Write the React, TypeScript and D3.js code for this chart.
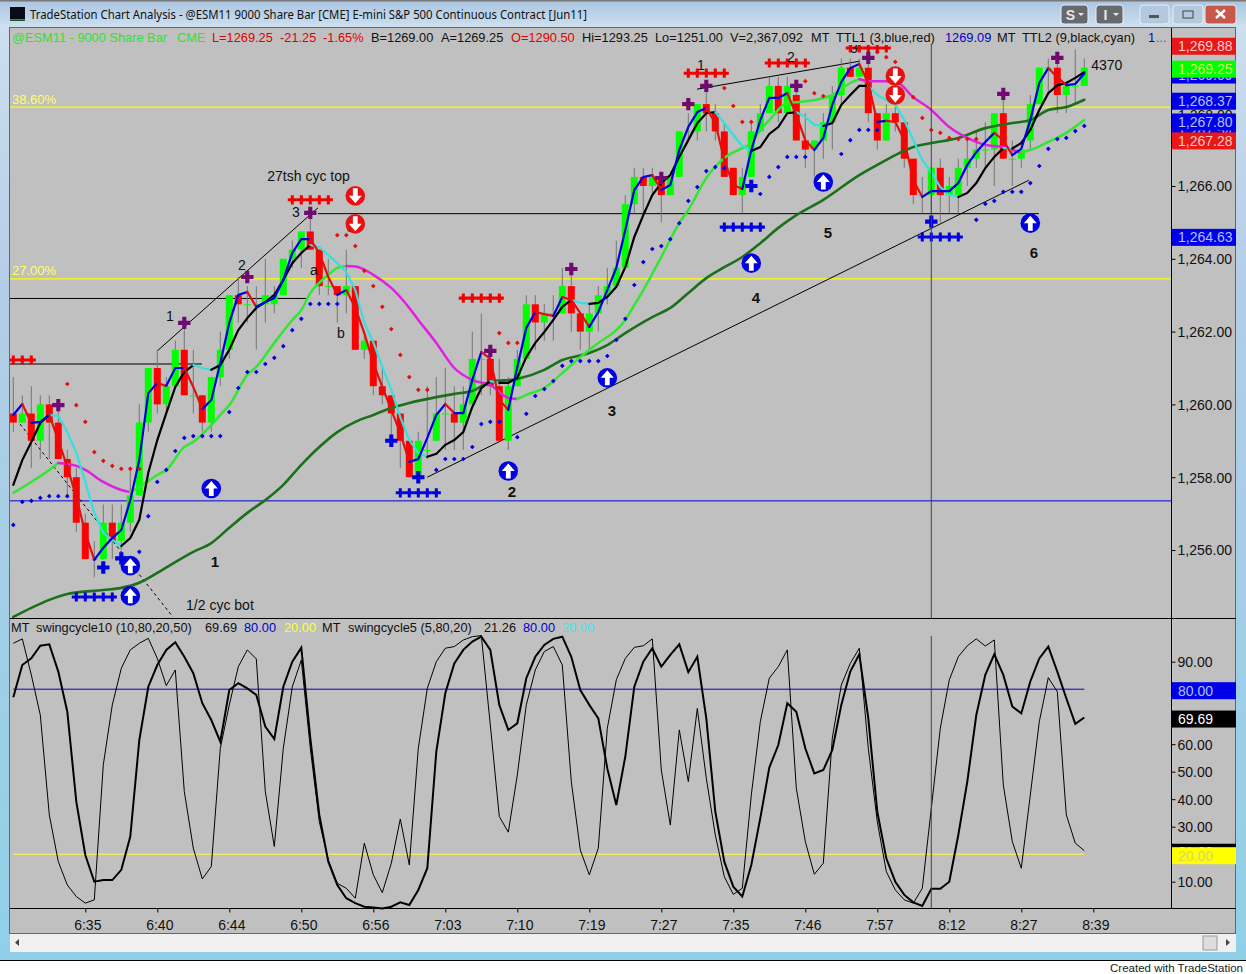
import React, { useEffect, useRef } from 'react';
import * as d3 from 'd3';

// bar data (one entry per bar, 120 bars)
const opens = [1259.75,1259.5,1259.75,1259,1260,1259.5,1258.5,1258,1256.75,1255.75,1255.75,1256.75,1256.25,1256.75,1257.5,1259.5,1261,1260,1260.5,1261.5,1260.25,1260.25,1259.5,1260.75,1261.5,1263,1262.75,1262.75,1262.75,1262.75,1263,1264,1264.25,1264.75,1264.25,1263.25,1263.25,1263,1263.25,1261.5,1261.75,1260.5,1260.25,1259.75,1259,1258,1258.75,1259,1259.75,1259.75,1259.5,1260,1261.25,1261.25,1260.5,1259,1260.5,1261.25,1262.75,1262.25,1262.5,1262.5,1263.25,1262.5,1262,1262.5,1263,1263.25,1263.75,1265.5,1266.25,1266,1266.25,1265.75,1266.25,1267.5,1267.5,1268.25,1268,1267.5,1266.5,1265.75,1266.25,1267.5,1268,1268.75,1268,1268.5,1267.25,1267,1267.25,1267.75,1268.5,1269.25,1269,1269.25,1268,1267.25,1268,1267.75,1266.75,1265.75,1265.75,1266.5,1265.75,1265.75,1266.5,1266.75,1267,1267,1268,1266.75,1266.75,1267.25,1268.25,1269.25,1269.25,1268.5,1268.75,1268.75];
const closes = [1259.5,1259.75,1259,1260,1259.5,1258.5,1258,1256.75,1255.75,1255.75,1256.75,1256.25,1256.75,1257.5,1259.5,1261,1260,1260.5,1261.5,1260.25,1260.25,1259.5,1260.75,1261.5,1263,1262.75,1262.75,1262.75,1263,1263,1264,1264.25,1264.75,1264.25,1263.25,1263.25,1263,1263.25,1261.5,1261.75,1260.5,1260.25,1259.75,1259,1258,1259,1258.75,1259.75,1259.75,1259.5,1260,1261.25,1261.25,1260.5,1259,1260.5,1261.25,1262.75,1262.25,1262.5,1262.5,1263.25,1262.5,1262,1262.5,1263,1263.25,1263.75,1265.5,1266.25,1266,1266.25,1265.75,1266.25,1267.5,1267.5,1268.25,1268,1267.5,1266.25,1265.75,1266.25,1267.5,1268,1268.75,1268,1268.75,1267.25,1267,1267.25,1267.75,1268.5,1269.25,1269,1269.25,1268,1267.25,1268,1267.75,1266.75,1265.75,1265.75,1266.5,1265.75,1266,1266.5,1266.75,1267,1267,1268,1266.75,1266.75,1267,1268.25,1269.25,1269.25,1268.5,1268.75,1268.75,1269.25];
const highs = [1260.75,1260.25,1260.5,1260.25,1260.25,1260,1258.75,1258.25,1257,1256.25,1257.25,1257.25,1257.25,1258.25,1260,1261,1261.5,1260.75,1261.75,1262.25,1261.5,1260.25,1260.75,1262,1263,1263.5,1263.25,1263.25,1264,1263.25,1264,1264.5,1264.75,1265.25,1264.25,1264,1263.25,1264.25,1263.25,1262,1261.75,1261,1260.25,1259.75,1259,1259.25,1260.5,1260.75,1261,1260.5,1260.5,1262,1262.5,1261.5,1261.25,1260.75,1261.5,1263,1263,1262.75,1263,1263.75,1263.75,1262.5,1262.75,1263.25,1263.75,1264.5,1265.75,1266.5,1266.5,1266.5,1266.25,1266.25,1267.5,1268,1268.25,1268.75,1268.25,1267.75,1266.5,1266.5,1267.75,1268.25,1269,1269,1269,1268.75,1268,1267.25,1268,1268.75,1269.5,1269.5,1269.5,1269.5,1268,1268.25,1268.5,1267.75,1266.75,1266.25,1266.5,1266.75,1266.25,1266.75,1267.25,1267.5,1267.75,1268,1268.5,1267.25,1267.25,1268.5,1269.25,1269.5,1269.5,1268.75,1269.75,1269.5];
const lows = [1259.25,1259.5,1258.25,1258.5,1258.5,1258.5,1257.5,1256.5,1255.75,1255.25,1255.75,1255.75,1256,1256.5,1257.5,1259.25,1259.75,1259.75,1260.5,1260.25,1259.75,1259.25,1259.25,1260.5,1261.25,1262.25,1262.25,1261.5,1262.25,1262.5,1263,1263.75,1263.75,1264.25,1263,1263,1262.25,1262.5,1261.5,1261.25,1260.25,1260,1259,1258.25,1258,1258,1258.5,1259,1258.75,1258.75,1258.75,1260,1260.25,1260.25,1259,1258.75,1260.5,1261.25,1261.5,1261.75,1261.75,1262.5,1262,1261.5,1261.5,1262,1262.75,1263.25,1263.75,1265.25,1265.25,1265.75,1265,1265.75,1266.25,1267.25,1267.25,1267.5,1267.25,1266.25,1265.75,1265.25,1266.25,1267.5,1268,1267.75,1268,1267.25,1266.5,1266.25,1266.75,1267,1268.25,1269,1269,1267.75,1267,1267.25,1267.5,1266.5,1265.5,1265.25,1265.25,1265,1265.25,1265.25,1266,1266.5,1266.5,1266,1266.75,1266,1266.5,1267,1268.25,1268.5,1268,1268,1268.25,1268.75];

// TTL1 (3,blue,red) and TTL2 (9,black,cyan), one value per bar
const ttl1 = [1259.71,1260.01,1259.49,1259.52,1259.71,1259.02,1258.28,1257.46,1256.47,1255.73,1256.06,1256.33,1256.55,1257.37,1258.47,1260.31,1260.59,1260.51,1261,1261,1260.48,1259.87,1260.12,1261.14,1262.24,1263.01,1263.09,1262.68,1262.81,1262.92,1263.42,1264.16,1264.54,1264.54,1264.16,1263.5,1263.01,1263.14,1262.65,1261.96,1261.14,1260.48,1259.85,1259.21,1258.42,1258.5,1259.08,1259.71,1260.01,1259.76,1259.76,1260.67,1261.44,1261.25,1260.12,1259.85,1261.03,1262.1,1262.54,1262.48,1262.43,1262.95,1262.87,1262.51,1262.13,1262.54,1263.14,1263.75,1264.79,1265.89,1266.25,1266.3,1265.89,1266.03,1266.99,1267.62,1268.03,1268.14,1267.73,1266.71,1266.03,1265.92,1266.99,1267.81,1268.42,1268.42,1268.55,1267.95,1267.26,1266.99,1267.32,1268.23,1268.86,1269.24,1269.35,1268.83,1267.76,1267.79,1267.76,1267.26,1266.16,1265.7,1265.86,1265.86,1265.86,1266.08,1266.58,1266.93,1267.21,1267.46,1267.26,1266.85,1267.02,1267.81,1268.83,1269.24,1268.99,1268.77,1268.8,1269.09];
const ttl2 = [1257.79,1258.47,1258.97,1259.49,1259.71,1259.68,1259.24,1258.67,1257.87,1257.02,1256.47,1256.28,1256.11,1256.33,1256.83,1258.12,1259.02,1259.76,1260.48,1260.89,1261.08,1261,1260.95,1261.08,1261.5,1262.04,1262.37,1262.65,1262.81,1263.01,1263.42,1263.88,1264.16,1264.38,1264.32,1264.1,1263.88,1263.64,1263.14,1262.24,1261.71,1261.03,1260.4,1259.65,1259.02,1258.67,1258.56,1258.64,1258.89,1259.02,1259.24,1259.93,1260.45,1260.64,1260.59,1260.59,1260.73,1261.3,1261.69,1261.99,1262.32,1262.68,1262.87,1262.79,1262.76,1262.79,1262.95,1263.23,1263.77,1264.6,1265.2,1265.75,1266.08,1266.3,1266.8,1267.26,1267.73,1268,1268.03,1267.73,1267.4,1267.1,1266.96,1267.07,1267.43,1267.62,1268,1268.03,1267.9,1267.68,1267.65,1267.73,1268.23,1268.5,1268.75,1268.75,1268.5,1268.36,1268.23,1267.81,1267.26,1266.71,1266.38,1265.97,1265.75,1265.7,1265.81,1266.08,1266.49,1266.8,1267.04,1267.03,1267.18,1267.54,1268.09,1268.55,1268.77,1268.83,1268.97,1269.13];

// the two moving averages, read at their visible vertices
const midBars = [0,2,4,5,7,8,10,12,13,14,16,17,19,20,22,23,24,26,27,29,31,32,33,34,35,36,37,38,40,42,44,45,47,49,51,53,55,56,57,59,61,63,65,67,68,69,70,72,74,75,77,79,81,82,83,84,86,87,89,91,93,94,95,98,100,102,104,106,108,110,111,112,113,115,117,119];
const midValues = [1257.57,1257.87,1258.2,1258.39,1258.31,1258.2,1257.87,1257.65,1257.59,1257.73,1258.06,1258.2,1258.83,1258.97,1259.43,1259.71,1259.98,1260.81,1261.03,1261.69,1262.32,1262.59,1263.06,1263.34,1263.56,1263.75,1263.8,1263.79,1263.56,1263.2,1262.65,1262.32,1261.69,1261,1260.67,1260.53,1260.18,1260.15,1260.26,1260.45,1260.86,1261.3,1261.69,1262.04,1262.32,1262.73,1263.14,1264.05,1264.98,1265.34,1266.22,1266.77,1267.04,1267.18,1267.54,1267.81,1268.28,1268.3,1268.36,1268.5,1268.83,1268.94,1268.88,1268.87,1268.44,1268.09,1267.62,1267.32,1267.13,1267.07,1266.99,1266.93,1266.99,1267.21,1267.46,1267.81];
const longBars = [0,2,4,6,10,12,14,16,18,20,22,24,26,28,30,32,34,36,38,40,42,44,47,49,51,53,56,59,61,64,66,68,71,73,75,77,79,81,83,85,87,90,94,96,98,100,102,105,108,111,113,115,117,119];
const longValues = [1254.16,1254.41,1254.63,1254.79,1254.9,1254.96,1255.1,1255.37,1255.67,1255.95,1256.19,1256.61,1257.02,1257.37,1257.79,1258.34,1258.83,1259.24,1259.52,1259.71,1259.9,1260.04,1260.2,1260.29,1260.37,1260.62,1260.7,1260.95,1261.22,1261.41,1261.63,1261.96,1262.4,1262.65,1263.06,1263.47,1263.77,1264.05,1264.43,1264.85,1265.2,1265.62,1266.3,1266.58,1266.85,1267.07,1267.18,1267.32,1267.59,1267.73,1267.81,1268.09,1268.17,1268.37];

// stop dots
const blueDotBars = [0,1,2,3,4,5,6,14,15,16,17,18,19,20,21,22,23,24,25,26,27,28,29,30,31,32,33,34,35,36,47,48,49,50,51,52,53,54,56,57,58,59,60,61,62,63,64,65,66,67,68,69,70,71,72,73,74,75,76,77,78,79,83,84,85,86,87,88,92,93,94,95,96,107,108,109,110,111,112,113,114,115,116,117,118,119];
const blueDotValues = [1256.69,1257.32,1257.35,1257.43,1257.48,1257.48,1257.48,1255.95,1256.93,1257.87,1258.2,1258.72,1259.08,1259.13,1259.13,1259.13,1259.13,1259.79,1260.45,1260.89,1260.89,1261.11,1261.28,1261.6,1262.04,1262.35,1262.76,1262.76,1262.76,1262.76,1258.2,1258.5,1258.5,1258.5,1258.83,1259.46,1259.52,1259.52,1259.1,1259.74,1260.23,1260.42,1260.64,1261.06,1261.19,1261.19,1261.19,1261.19,1261.33,1261.77,1262.35,1263.28,1263.91,1264.27,1264.35,1264.54,1264.98,1265.59,1265.97,1266.41,1266.52,1266.49,1265.78,1266.25,1266.52,1266.8,1266.8,1266.8,1266.88,1267.26,1267.54,1267.54,1267.54,1265.07,1265.51,1265.59,1265.84,1265.84,1265.84,1266.08,1266.55,1267.02,1267.29,1267.32,1267.51,1267.65];
const redDotBars = [6,7,8,9,10,11,12,13,14,36,37,38,39,40,41,42,43,44,45,46,54,55,56,79,80,81,82,88,89,90,96,97,98,100,101,102,103,104,105,106,107];
const redDotValues = [1260.56,1259.98,1259.52,1258.69,1258.45,1258.31,1258.23,1258.23,1258.23,1264.65,1264.65,1264.35,1263.67,1263.25,1262.68,1262.07,1261.36,1260.75,1260.4,1260.4,1261.96,1261.69,1261.69,1268.69,1268.2,1267.76,1267.76,1268.88,1268.55,1268.47,1269.68,1269.54,1269.41,1268.44,1267.87,1267.54,1267.46,1267.32,1267.29,1267.29,1267.29];

// purple swing markers and the single blue crosses
const purpleBars = [5,19,26,33,53,62,72,75,77,87,95,110,116];
const purpleValues = [1259.98,1262.24,1263.5,1265.26,1261.47,1263.72,1266.22,1268.25,1268.75,1268.75,1269.52,1268.53,1269.52];
const blueCrossBars = [10,12,42,45,82,102];
const blueCrossValues = [1255.52,1255.77,1259.0,1258.0,1266.0,1265.02];

// rows of crosses: first bar, count, price
const redRowStart = [0,31,50,75,84,93];
const redRowCount = [3,5,5,5,5,5];
const redRowPrice = [1261.22,1265.62,1262.92,1269.1,1269.38,1269.79];
const blueRowStart = [7,43,79,101];
const blueRowCount = [5,5,5,5];
const blueRowPrice = [1254.71,1257.57,1264.87,1264.6];

// arrow circles
const upArrowBars = [13,13,22,55,66,82,90,113];
const upArrowValues = [1255.57,1254.74,1257.69,1258.17,1260.73,1263.88,1266.11,1264.98];
const downArrowBars = [38,38,98,98];
const downArrowValues = [1265.73,1264.96,1269.02,1268.5];

// hand drawn lines: [bar, price, bar, price]
const trendLines = [
  [16, 1261.47, 33.85, 1265.4],
  [46, 1258.0, 112.85, 1266.16],
  [75.96, 1268.66, 94.08, 1269.43],
  [-0.37, 1262.91, 32.7, 1262.91],
  [-0.37, 1261.11, 20.96, 1261.11],
  [33.85, 1265.24, 113.96, 1265.24],
];
const dashedLine = [0.75, 1259.46, 17.74, 1254.16];

// text notes: label, bar, price
const notes: [string, number, number][] = [
  ['27tsh cyc top', 32.8, 1266.14], ['1/2 cyc bot', 22.96, 1254.35], ['1', 17.4, 1262.29], ['2', 25.4, 1263.69],
  ['3', 31.4, 1265.15], ['a', 33.4, 1263.56], ['b', 36.4, 1261.82], ['c', 37.4, 1264.74], ['1', 76.4, 1269.19],
  ['2', 86.4, 1269.41], ['3', 93.4, 1269.65], ['4370', 121.5, 1269.2],
];
const boldNotes: [string, number, number][] = [
  ['1', 22.4, 1255.53], ['2', 55.4, 1257.46], ['3', 66.5, 1259.68], ['4', 82.5, 1262.79], ['5', 90.5, 1264.57], ['6', 113.4, 1264.02],
];

// oscillators, one value per bar
const swing10 = [77.1,88.8,91.2,95.8,96.3,86.4,71.8,39.1,19.7,10,10.6,10.6,14.3,26.4,61.5,80.9,88.8,94.3,97.1,91.8,85.8,74.9,68.8,60.9,79.7,82.2,80.3,77.9,66.4,61.9,80.9,90,95.1,62.2,34.3,17.3,8.8,4,2.2,0.9,0.6,0.3,0.9,2.5,1.5,7,14.9,57.3,78.5,89.4,94.3,97.3,99.1,94.3,74.3,65.2,67.6,84,91.8,96.1,98.3,99.1,91.8,79.7,74.3,69.4,51.2,37.9,55.5,80.9,90,94.9,88.2,92.5,96.3,86.2,91.8,69.4,35.5,17.3,8.2,4.6,16.1,33.1,51.5,59.7,74.9,71.8,58.5,49.4,50.6,57.9,74.3,86.4,92.7,69.4,35.5,18.5,10,5.2,2.5,1.2,7.4,7.4,10,27,46.4,70.6,85.2,92.7,85.2,73.7,71.2,82.8,91.2,95.5,86.4,76.7,67.4,69.69];
const swing5 = [96.7,98.3,85.2,70.6,34.3,17.3,8.8,4.6,2.2,3.4,52.5,74.3,87.6,94.3,96.7,98.5,91.2,81.3,87,42.8,22.2,11,15.5,58.5,74.3,88.2,94.3,91,42.8,22.8,58.5,80.9,90.6,58.5,31.8,17.9,9.4,7.6,4,24,12.5,6,16.7,32.8,16.1,58.5,80.3,90,94.9,95.5,97.9,99.1,99.5,67,33.7,28,48.8,74.3,87,93.7,95.5,88.8,46.4,21.5,12.5,22.2,65.8,83.4,91.2,95.2,95.8,98.3,50.6,30.6,65.2,46.4,73,47.6,27,11.8,5.4,7.6,41.5,68.2,84,88.2,94.3,44,24.6,12.7,16.7,62.2,81.5,89.4,94.9,58.5,31.8,13.7,7,3.4,2.2,7.6,36.7,65.8,83.4,91.8,95.8,98.3,95.7,97.9,45.2,24.6,14.9,41.5,68.2,84.2,79.1,34.3,24,21.26];

const timeLabels = ['6:35','6:40','6:44','6:50','6:56','7:03','7:10','7:19','7:27','7:35','7:46','7:57','8:12','8:27','8:39'];
const priceTicks = [1266,1264,1262,1260,1258,1256];
const oscTicks = [90,60,50,40,30,10];

const App: React.FC = () => {
  const ref = useRef<SVGSVGElement>(null);

  useEffect(() => {
    const svg = d3.select(ref.current);
    svg.selectAll('*').remove();

    const font = '"Liberation Sans", Arial, sans-serif';
    const x = d3.scaleLinear().domain([0, 120]).range([13.3, 1093.3]);
    const y = d3.scaleLinear().domain([1266, 1256]).range([186, 550]);
    const yOsc = d3.scaleLinear().domain([90, 10]).range([661.7, 881.7]);

    const defs = svg.append('defs');
    const grad = defs.append('linearGradient').attr('id', 'title').attr('x1', 0).attr('x2', 0).attr('y1', 0).attr('y2', 1);
    grad.append('stop').attr('offset', 0).attr('stop-color', '#a9c4df');
    grad.append('stop').attr('offset', 1).attr('stop-color', '#cfe0f0');
    const side = defs.append('linearGradient').attr('id', 'side').attr('x1', 0).attr('x2', 0).attr('y1', 0).attr('y2', 1);
    side.append('stop').attr('offset', 0).attr('stop-color', '#cfe0f0');
    side.append('stop').attr('offset', 0.3).attr('stop-color', '#b4cde6');
    side.append('stop').attr('offset', 1).attr('stop-color', '#8fd0e8');
    defs.append('clipPath').attr('id', 'main').append('rect').attr('x', 10).attr('y', 45).attr('width', 1161).attr('height', 573);

    // window frame
    svg.append('rect').attr('width', 1246).attr('height', 974).attr('fill', '#ffffff');
    svg.append('rect').attr('width', 1246).attr('height', 960).attr('fill', 'url(#side)');
    svg.append('rect').attr('width', 1246).attr('height', 28).attr('fill', 'url(#title)');
    svg.append('rect').attr('width', 1246).attr('height', 1.5).attr('fill', '#777777');
    svg.append('rect').attr('y', 960).attr('width', 1246).attr('height', 1).attr('fill', '#000000');
    svg.append('rect').attr('x', 9.5).attr('y', 27.5).attr('width', 1226).attr('height', 906).attr('fill', '#c0c0c0').attr('stroke', '#666666');
    svg.append('rect').attr('x', 10).attr('y', 934).attr('width', 1226).attr('height', 18).attr('fill', '#f0f0f0');
    svg.append('rect').attr('x', 1203).attr('y', 936).attr('width', 14).attr('height', 14).attr('fill', '#dddddd').attr('stroke', '#999999');
    svg.append('path').attr('d', 'M19,939 L15,942.5 L19,946 Z').attr('fill', '#444444');
    svg.append('path').attr('d', 'M1226,939 L1230,942.5 L1226,946 Z').attr('fill', '#444444');

    // icon
    svg.append('rect').attr('x', 10).attr('y', 7).attr('width', 15).attr('height', 14).attr('fill', '#0a0a18');
    svg.append('rect').attr('x', 10).attr('y', 19).attr('width', 15).attr('height', 1.5).attr('fill', '#2aa02a');
    svg.append('text').attr('x', 30).attr('y', 19).attr('font-family', '"Noto Sans", sans-serif').attr('font-size', 12)
      .attr('textLength', 557).attr('lengthAdjust', 'spacingAndGlyphs').attr('fill', '#111111')
      .text('TradeStation Chart Analysis - @ESM11 9000 Share Bar [CME] E-mini S&P 500 Continuous Contract [Jun11]');

    // window buttons
    const btn = (bx, w, col, label) => {
      svg.append('rect').attr('x', bx).attr('y', 5).attr('width', w).attr('height', 19).attr('rx', 3).attr('fill', col).attr('stroke', '#e8eef5');
      if (label) {
        svg.append('text').attr('x', bx + w / 2 - 4).attr('y', 19.5).attr('text-anchor', 'middle').attr('font-family', font)
          .attr('font-weight', 'bold').attr('font-size', 14).attr('fill', '#e8e8e8').text(label);
        svg.append('path').attr('d', `M${bx + w - 10},13 h6 l-3,3 Z`).attr('fill', '#e8e8e8');
      }
    };
    btn(1061, 27, '#666a6e', 'S');
    btn(1096, 27, '#666a6e', 'I');
    btn(1140, 29, '#b5c9de', '');
    btn(1173, 30, '#b5c9de', '');
    btn(1205, 31, '#c8584a', '');
    svg.append('rect').attr('x', 1149).attr('y', 15).attr('width', 10).attr('height', 3).attr('fill', '#555555');
    svg.append('rect').attr('x', 1183).attr('y', 11).attr('width', 10).attr('height', 7).attr('fill', 'none').attr('stroke', '#444444');
    svg.append('path').attr('d', 'M1216,10 L1225,18 M1225,10 L1216,18').attr('stroke', '#ffffff').attr('stroke-width', 2.5);
    svg.append('text').attr('x', 1243).attr('y', 972).attr('text-anchor', 'end').attr('font-family', font).attr('font-size', 11.5).attr('fill', '#222222').text('Created with TradeStation');

    // header texts
    const label = (g, str, tx, ty, col, size = 12.8) =>
      g.append('text').attr('x', tx).attr('y', ty).attr('font-family', font).attr('font-size', size).attr('fill', col).text(str);
    const hy = 42;
    [
      ['@ESM11 - 9000 Share Bar', 12, '#33e033'], ['CME', 177, '#33e033'], ['L=1269.25', 212, '#e00000'], ['-21.25', 280, '#e00000'], ['-1.65%', 323, '#e00000'],
      ['B=1269.00', 371, '#111111'], ['A=1269.25', 441, '#111111'], ['O=1290.50', 511, '#e00000'], ['Hi=1293.25', 582, '#111111'],
      ['Lo=1251.00', 655, '#111111'], ['V=2,367,092', 730, '#111111'], ['MT', 811, '#111111'], ['TTL1 (3,blue,red)', 836, '#111111'],
      ['1269.09', 945, '#0000d0'], ['MT', 997, '#111111'], ['TTL2 (9,black,cyan)', 1022, '#111111'], ['1', 1148, '#0000d0'], ['...', 1156, '#666666'],
    ].forEach((d: any) => label(svg, d[0], d[1], hy, d[2]));
    [
      ['MT', 11, '#111111'], ['swingcycle10 (10,80,20,50)', 36, '#111111'], ['69.69', 205, '#111111'], ['80.00', 244, '#0000d0'], ['20.00', 284, '#ffff30'],
      ['MT', 322, '#111111'], ['swingcycle5 (5,80,20)', 348, '#111111'], ['21.26', 484, '#111111'], ['80.00', 523, '#0000d0'], ['20.00', 562, '#40e8e8'],
    ].forEach((d: any) => label(svg, d[0], d[1], 632, d[2]));

    // main panel, clipped to the price pane
    const g = svg.append('g').attr('clip-path', 'url(#main)');

    // levels
    g.append('line').attr('x1', 10).attr('x2', 1171).attr('y1', 107.2).attr('y2', 107.2).attr('stroke', '#ffff00').attr('stroke-width', 1.3);
    g.append('line').attr('x1', 10).attr('x2', 1171).attr('y1', 278.8).attr('y2', 278.8).attr('stroke', '#ffff00').attr('stroke-width', 1.3);
    g.append('line').attr('x1', 10).attr('x2', 1171).attr('y1', y(1257.35)).attr('y2', y(1257.35)).attr('stroke', '#0000d0');
    label(g, '38.60%', 12, 104, '#ffff66', 13);
    label(g, '27.00%', 12, 275, '#ffff66', 13);

    trendLines.forEach(d => {
      g.append('line').attr('x1', x(d[0])).attr('y1', y(d[1])).attr('x2', x(d[2])).attr('y2', y(d[3])).attr('stroke', '#000000').attr('stroke-width', 1);
    });
    g.append('line').attr('x1', x(dashedLine[0])).attr('y1', y(dashedLine[1])).attr('x2', x(dashedLine[2])).attr('y2', y(dashedLine[3]))
      .attr('stroke', '#000000').attr('stroke-dasharray', '3,3');

    // bars
    const bars = d3.range(opens.length);
    g.selectAll('.wick').data(bars).enter().append('line').attr('class', 'wick')
      .attr('x1', i => x(i)).attr('x2', i => x(i)).attr('y1', i => y(highs[i])).attr('y2', i => y(lows[i]))
      .attr('stroke', '#767676').attr('stroke-width', 1);
    g.selectAll('.body').data(bars).enter().append('rect').attr('class', 'body')
      .attr('x', i => x(i) - 3.5).attr('width', 7)
      .attr('y', i => y(Math.max(opens[i], closes[i])))
      .attr('height', i => Math.max(y(Math.min(opens[i], closes[i])) - y(Math.max(opens[i], closes[i])), 1))
      .attr('fill', i => (closes[i] < opens[i] ? '#ff0000' : '#00ff00'));

    // lines coloured by direction, split in runs of one colour
    const drawDir = (pts, up, down, w, curve) => {
      const line = d3.line<number[]>().x(d => x(d[0])).y(d => y(d[1])).curve(curve);
      let run = [pts[0]];
      let col = null;
      for (let k = 1; k < pts.length; k++) {
        const c = pts[k][1] >= pts[k - 1][1] ? up : down;
        if (col && c !== col) {
          g.append('path').attr('d', line(run)).attr('fill', 'none').attr('stroke', col).attr('stroke-width', w).attr('stroke-linecap', 'round');
          run = [pts[k - 1]];
        }
        col = c;
        run.push(pts[k]);
      }
      g.append('path').attr('d', line(run)).attr('fill', 'none').attr('stroke', col).attr('stroke-width', w).attr('stroke-linecap', 'round');
    };
    drawDir(longBars.map((b, k) => [b, longValues[k]]), '#1b701b', '#1b701b', 2.6, d3.curveMonotoneX);
    drawDir(midBars.map((b, k) => [b, midValues[k]]), '#33e633', '#e020e0', 2.5, d3.curveMonotoneX);
    drawDir(ttl2.map((v, k) => [k, v]), '#000000', '#33e0e0', 2.2, d3.curveLinear);
    drawDir(ttl1.map((v, k) => [k, v]), '#0000e0', '#e01010', 2.2, d3.curveLinear);

    // dots and crosses
    const place = (bar, val, size, type, col) =>
      g.append('path').attr('d', d3.symbol().type(type).size(size)()).attr('fill', col).attr('transform', `translate(${x(bar)},${y(val)})`);
    blueDotBars.forEach((b, k) => place(b, blueDotValues[k], 14, d3.symbolDiamond2, '#0000e0'));
    redDotBars.forEach((b, k) => place(b, redDotValues[k], 14, d3.symbolDiamond2, '#e01010'));
    redRowStart.forEach((s, k) => d3.range(redRowCount[k]).forEach(n => place(s + n, redRowPrice[k], 46, d3.symbolCross, '#f00000')));
    blueRowStart.forEach((s, k) => d3.range(blueRowCount[k]).forEach(n => place(s + n, blueRowPrice[k], 46, d3.symbolCross, '#0000e0')));
    purpleBars.forEach((b, k) => place(b, purpleValues[k], 85, d3.symbolCross, '#700a70'));
    blueCrossBars.forEach((b, k) => place(b, blueCrossValues[k], 85, d3.symbolCross, '#0000e0'));

    // notes
    notes.forEach(d => {
      g.append('text').attr('x', x(d[1])).attr('y', y(d[2])).attr('text-anchor', 'middle').attr('font-family', font).attr('font-size', 14).attr('fill', '#111111').text(d[0]);
    });
    boldNotes.forEach(d => {
      g.append('text').attr('x', x(d[1])).attr('y', y(d[2])).attr('text-anchor', 'middle').attr('font-family', font).attr('font-size', 15).attr('font-weight', 'bold').attr('fill', '#111111').text(d[0]);
    });

    // arrow circles
    const arrow = (bar, val, col, down) => {
      const a = g.append('g').attr('transform', `translate(${x(bar)},${y(val)})`);
      a.append('circle').attr('r', 9.8).attr('fill', col);
      a.append('path').attr('d', 'M-2.4,7.5 L2.4,7.5 L2.4,0 L6.5,0 L0,-7.5 L-6.5,0 L-2.4,0 Z').attr('fill', '#ffffff').attr('transform', down ? 'rotate(180)' : null);
    };
    upArrowBars.forEach((b, k) => arrow(b, upArrowValues[k], '#0000e0', false));
    downArrowBars.forEach((b, k) => arrow(b, downArrowValues[k], '#e81010', true));

    // oscillator pane
    const osc = svg.append('g');
    osc.append('line').attr('x1', x(0)).attr('x2', x(119)).attr('y1', yOsc(80)).attr('y2', yOsc(80)).attr('stroke', '#0000d0');
    osc.append('line').attr('x1', x(0)).attr('x2', x(119)).attr('y1', yOsc(20)).attr('y2', yOsc(20)).attr('stroke', '#ffff33');
    const oscLine = d3.line<number>().x((d, i) => x(i)).y(d => yOsc(d));
    osc.append('path').attr('d', oscLine(swing5)).attr('fill', 'none').attr('stroke', '#000000').attr('stroke-width', 1);
    osc.append('path').attr('d', oscLine(swing10)).attr('fill', 'none').attr('stroke', '#000000').attr('stroke-width', 2);

    // cursor line
    svg.append('line').attr('x1', x(102)).attr('x2', x(102)).attr('y1', 45).attr('y2', 618).attr('stroke', '#444444');
    svg.append('line').attr('x1', x(102)).attr('x2', x(102)).attr('y1', 636).attr('y2', 908).attr('stroke', '#444444');

    // pane borders
    svg.append('line').attr('x1', 10).attr('x2', 1236).attr('y1', 618.5).attr('y2', 618.5).attr('stroke', '#000000');
    svg.append('line').attr('x1', 1171.5).attr('x2', 1171.5).attr('y1', 28).attr('y2', 909).attr('stroke', '#000000');

    // axes
    const timeAxis = d3.axisBottom(x).tickValues(timeLabels.map((_, k) => (k + 1) * 8))
      .tickFormat((_, k) => timeLabels[k]).tickSize(4).tickPadding(7);
    const ta = svg.append('g').attr('transform', 'translate(0,908.5)').call(timeAxis);
    ta.select('.domain').remove();
    ta.selectAll('text').attr('font-family', font).attr('font-size', 14).attr('fill', '#111111').attr('dx', 2).attr('dy', '0.76em');
    ta.selectAll('line').attr('stroke', '#000000');
    svg.append('line').attr('x1', 10).attr('x2', 1236).attr('y1', 908.5).attr('y2', 908.5).attr('stroke', '#000000');

    const styleAxis = a => {
      a.select('.domain').remove();
      a.selectAll('text').attr('font-family', font).attr('font-size', 14).attr('fill', '#111111').attr('dy', '0.35em');
      a.selectAll('line').attr('stroke', '#000000');
    };
    const pa = svg.append('g').attr('transform', 'translate(1171.5,0)')
      .call(d3.axisRight(y).tickValues(priceTicks).tickFormat(d3.format(',.2f')).tickSize(4).tickPadding(2));
    styleAxis(pa);
    const oa = svg.append('g').attr('transform', 'translate(1171.5,0)')
      .call(d3.axisRight(yOsc).tickValues(oscTicks).tickFormat(d3.format('.2f')).tickSize(4).tickPadding(2));
    styleAxis(oa);

    // last value boxes, later ones cover earlier ones
    const box = (ty, str, bg, col) => {
      svg.append('rect').attr('x', 1172).attr('y', ty - 7).attr('width', 64).attr('height', 17).attr('fill', bg);
      svg.append('text').attr('x', 1178).attr('y', ty + 6.5).attr('font-family', font).attr('font-size', 14).attr('fill', col).text(str);
    };
    const fmt = d3.format(',.2f');
    box(y(1269.88), fmt(1269.88), '#e81818', '#ffc8c8');
    box(y(1269.09), fmt(1269.09), '#0000e8', '#b0c0ff');
    box(y(1269.25), fmt(1269.25), '#00ff00', '#d0ff60');
    box(y(1268.0), fmt(1268.0), '#c0c0c0', '#111111');
    box(y(1268.37), fmt(1268.37), '#0000e8', '#b0c0ff');
    box(y(1267.54), fmt(1267.54), '#0000e8', '#b0c0ff');
    box(y(1267.28), fmt(1267.28), '#e81818', '#ffc8c8');
    box(y(1267.8), fmt(1267.8), '#0000e8', '#b0c0ff');
    box(y(1264.63), fmt(1264.63), '#0000e8', '#b0c0ff');
    box(yOsc(80), '80.00', '#0000e8', '#b0c0ff');
    box(yOsc(69.69), '69.69', '#000000', '#ffffff');
    box(yOsc(21.26), '21.26', '#000000', '#ffffff');
    box(yOsc(20), '20.00', '#ffff00', '#d8d860');
  }, []);

  return <svg ref={ref} width={1246} height={974} style={{ position: 'absolute', left: 0, top: 0 }} />;
};

export default App;
